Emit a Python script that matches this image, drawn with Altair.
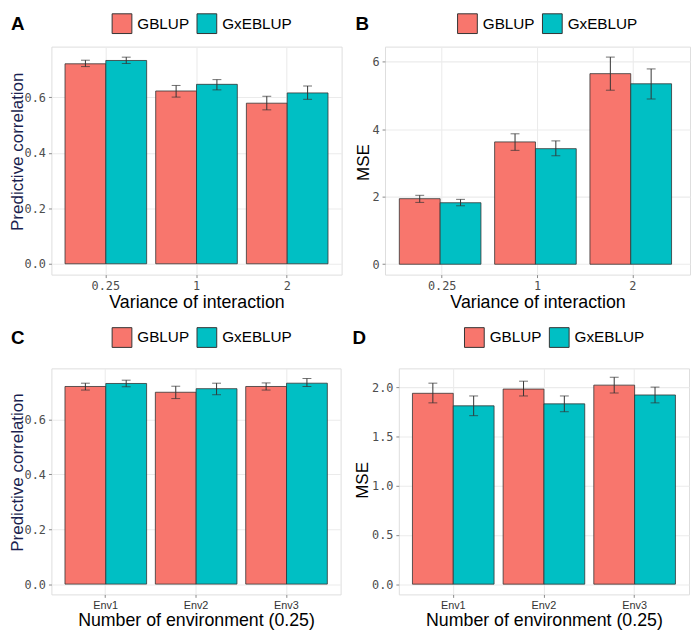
import altair as alt
import pandas as pd
import numpy as np

methods = ["GBLUP", "GxEBLUP"]
colors = ["#F8766D", "#00BFC4"]

var_cats = ["0.25", "1", "2"]
env_cats = ["Env1", "Env2", "Env3"]

# Panel A: predictive correlation vs variance of interaction
a_gblup = [0.721, 0.623, 0.579]
a_gblup_lo = [0.711, 0.601, 0.555]
a_gblup_hi = [0.734, 0.643, 0.604]
a_gxe = [0.733, 0.647, 0.616]
a_gxe_lo = [0.722, 0.627, 0.593]
a_gxe_hi = [0.745, 0.664, 0.641]

# Panel B: MSE vs variance of interaction
b_gblup = [1.94, 3.62, 5.64]
b_gblup_lo = [1.83, 3.37, 5.15]
b_gblup_hi = [2.04, 3.86, 6.13]
b_gxe = [1.82, 3.42, 5.34]
b_gxe_lo = [1.73, 3.21, 4.89]
b_gxe_hi = [1.92, 3.65, 5.78]

# Panel C: predictive correlation vs environment
c_gblup = [0.720, 0.699, 0.720]
c_gblup_lo = [0.707, 0.676, 0.707]
c_gblup_hi = [0.732, 0.721, 0.733]
c_gxe = [0.731, 0.712, 0.732]
c_gxe_lo = [0.719, 0.690, 0.720]
c_gxe_hi = [0.743, 0.732, 0.749]

# Panel D: MSE vs environment
d_gblup = [1.937, 1.98, 2.02]
d_gblup_lo = [1.84, 1.91, 1.94]
d_gblup_hi = [2.04, 2.06, 2.10]
d_gxe = [1.81, 1.83, 1.92]
d_gxe_lo = [1.71, 1.75, 1.84]
d_gxe_hi = [1.91, 1.91, 2.00]

TITLE_FONT = "Liberation Sans"
TICK_FONT = "DejaVu Sans Mono"


def table(cats, g, gl, gh, x, xl, xh):
    rows = []
    for i, c in enumerate(cats):
        rows.append({"cat": c, "method": methods[0], "v": g[i], "lo": gl[i], "hi": gh[i]})
        rows.append({"cat": c, "method": methods[1], "v": x[i], "lo": xl[i], "hi": xh[i]})
    return pd.DataFrame(rows)


def panel(df, cats, letter, xtitle, ytitle, ytitle_color, domain, major, minor, fmt,
          width, height, ytx, yty, lgx, lgy, lgpad, xlab_font, xlab_size, xlab_color,
          xlab_pad, xty):
    ticks = list(np.round(np.arange(0, domain[1] + 1e-9, minor), 4))
    test = f"abs(datum.value/{major} - round(datum.value/{major})) < 1e-6"
    yaxis = alt.Axis(
        values=ticks,
        format=fmt,
        labelExpr=f"{test} ? datum.label : ''",
        tickOpacity={"condition": {"test": test, "value": 1}, "value": 0},
        gridWidth={"condition": {"test": test, "value": 1.1}, "value": 0.6},
        title=ytitle,
        titleColor=ytitle_color,
        titleFont=TITLE_FONT,
        titleFontSize=17.2,
        titleFontWeight="normal",
        titleX=ytx,
        titleY=yty,
        titleAngle=270,
        titleBaseline="alphabetic",
        titleAlign="center",
        labelFont=TICK_FONT,
        labelFontSize=12,
        labelColor="#4D4D4D",
        labelPadding=3,
        tickSize=3,
        tickColor="#888888",
        domain=False,
        grid=True,
        gridColor="#EBEBEB",
    )
    xaxis = alt.Axis(
        title=xtitle,
        titleFont=TITLE_FONT,
        titleFontSize=18,
        titleFontWeight="normal",
        titleColor="#000000",
        titleY=xty,
        titleBaseline="alphabetic",
        labelFont=xlab_font,
        labelFontSize=xlab_size,
        labelColor=xlab_color,
        labelPadding=xlab_pad,
        labelAngle=0,
        tickSize=3,
        tickColor="#888888",
        domain=False,
        grid=True,
        gridColor="#EBEBEB",
        gridWidth=1.1,
        bandPosition=0.5,
    )
    xenc = alt.X("cat:N", sort=cats, axis=xaxis,
                 scale=alt.Scale(paddingInner=0.1, paddingOuter=0.15))
    xoff = alt.XOffset("method:N", sort=methods,
                       scale=alt.Scale(paddingInner=0, paddingOuter=0))
    yscale = alt.Scale(domain=domain, nice=False, zero=False)
    base = alt.Chart(df)
    bars = base.mark_bar(stroke="#333333", strokeWidth=0.8).encode(
        x=xenc,
        xOffset=xoff,
        y=alt.Y("v:Q", axis=yaxis, scale=yscale),
        color=alt.Color(
            "method:N",
            scale=alt.Scale(domain=methods, range=colors),
            legend=alt.Legend(
                orient="none",
                legendX=lgx,
                legendY=lgy,
                direction="horizontal",
                title=letter,
                titleOrient="left",
                titleFont=TITLE_FONT,
                titleFontSize=19,
                titleFontWeight="bold",
                titleColor="#000000",
                titlePadding=lgpad,
                titleBaseline="middle",
                labelFont=TITLE_FONT,
                labelFontSize=15.5,
                labelColor="#000000",
                labelOffset=5,
                columnPadding=5,
                symbolType="square",
                symbolSize=400,
                symbolStrokeColor="#333333",
                symbolStrokeWidth=1,
                symbolOpacity=1,
                padding=0,
                offset=0,
            ),
        ),
    )
    err = base.mark_rule(color="#333333", strokeWidth=1).encode(
        x=xenc, xOffset=xoff, y=alt.Y("lo:Q", scale=yscale), y2="hi:Q"
    )
    cap_lo = base.mark_tick(color="#333333", thickness=1, size=9, orient="horizontal").encode(
        x=xenc, xOffset=xoff, y=alt.Y("lo:Q", scale=yscale)
    )
    cap_hi = base.mark_tick(color="#333333", thickness=1, size=9, orient="horizontal").encode(
        x=xenc, xOffset=xoff, y=alt.Y("hi:Q", scale=yscale)
    )
    return alt.layer(bars, err, cap_lo, cap_hi).properties(width=width, height=height)


dfA = table(var_cats, a_gblup, a_gblup_lo, a_gblup_hi, a_gxe, a_gxe_lo, a_gxe_hi)
dfB = table(var_cats, b_gblup, b_gblup_lo, b_gblup_hi, b_gxe, b_gxe_lo, b_gxe_hi)
dfC = table(env_cats, c_gblup, c_gblup_lo, c_gblup_hi, c_gxe, c_gxe_lo, c_gxe_hi)
dfD = table(env_cats, d_gblup, d_gblup_lo, d_gblup_hi, d_gxe, d_gxe_lo, d_gxe_hi)

pA = panel(dfA, var_cats, "A", "Variance of interaction", "Predictive correlation", "#1B1F4F",
           [-0.039, 0.783], 0.2, 0.1, ".1f", 294, 231, -29, 106, -41, -34, 88,
           TICK_FONT, 12, "#4D4D4D", 3, 33)
pB = panel(dfB, var_cats, "B", "Variance of interaction", "MSE", "#000000",
           [-0.307, 6.44], 2, 1, "d", 309, 231, -17, 117, -30, -34, 89,
           TICK_FONT, 12, "#4D4D4D", 3, 33)
pC = panel(dfC, env_cats, "C", "Number of environment (0.25)", "Predictive correlation", "#1B1F4F",
           [-0.0375, 0.786], 0.2, 0.1, ".1f", 293, 229, -29, 105, -41, -42, 88,
           TITLE_FONT, 11, "#333333", 2, 31.5)
pD = panel(dfD, env_cats, "D", "Number of environment (0.25)", "MSE", "#000000",
           [-0.104, 2.19], 0.5, 0.25, ".1f", 294, 229, -32, 113, -47, -42, 99,
           TITLE_FONT, 11, "#333333", 2, 31.5)

indep = dict(x="independent", y="independent", color="independent")
row1 = alt.hconcat(pA, pB, spacing=11).resolve_scale(**indep).resolve_legend(color="independent")
row2 = alt.hconcat(pC, pD, spacing=10).resolve_scale(**indep).resolve_legend(color="independent")
chart = (
    alt.vconcat(row1, row2, spacing=14)
    .resolve_scale(**indep)
    .resolve_legend(color="independent")
    .properties(padding=0)
    .configure_view(stroke="#AAAAAA", strokeWidth=1.3)
    .configure(background="#FFFFFF")
)

chart.save("out.html", embed_options={"renderer": "svg", "actions": False})
